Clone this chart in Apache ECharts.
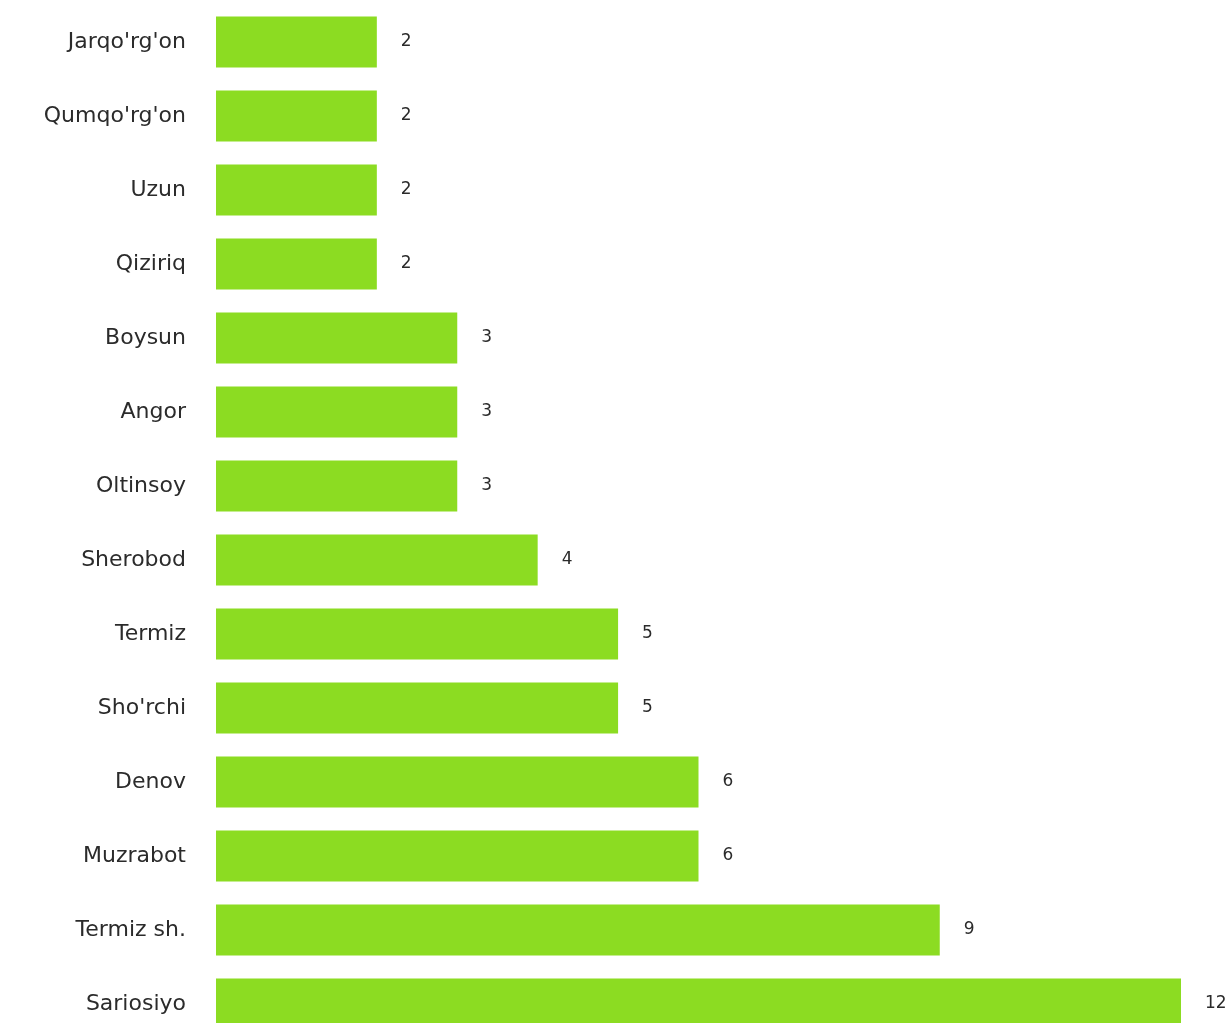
<!DOCTYPE html>
<html>
<head>
<meta charset="utf-8">
<script src="https://cdn.jsdelivr.net/npm/echarts@6/dist/echarts.min.js"></script>
<style>
html,body{margin:0;padding:0;background:#fff;overflow:hidden;}
#c{width:1229px;height:1041px;}
</style>
</head>
<body>
<div id="c"></div>
<script>
const categories = ["Jarqo'rg'on","Qumqo'rg'on","Uzun","Qiziriq","Boysun","Angor","Oltinsoy","Sherobod","Termiz","Sho'rchi","Denov","Muzrabot","Termiz sh.","Sariosiyo"];
const values = [2,2,2,2,3,3,3,4,5,5,6,6,9,12];

const chart = echarts.init(document.getElementById('c'));
chart.setOption({
  animation: false,
  grid: {left: 216, right: 48, top: 5, bottom: 0, containLabel: false},
  xAxis: {type: 'value', min: 0, max: 12, show: false},
  yAxis: {
    type: 'category', data: categories, inverse: true,
    axisLine: {show: false}, axisTick: {show: false}, splitLine: {show: false},
    axisLabel: {margin: 30, color: '#2b2b2b', fontSize: 22, fontFamily: 'DejaVu Sans'}
  },
  series: [{
    type: 'bar', data: values, barCategoryGap: '31%',
    itemStyle: {color: '#8CDC22'},
    label: {show: true, position: 'right', distance: 24, color: '#2b2b2b', fontSize: 17, fontFamily: 'DejaVu Sans'}
  }]
});
</script>
</body>
</html>
